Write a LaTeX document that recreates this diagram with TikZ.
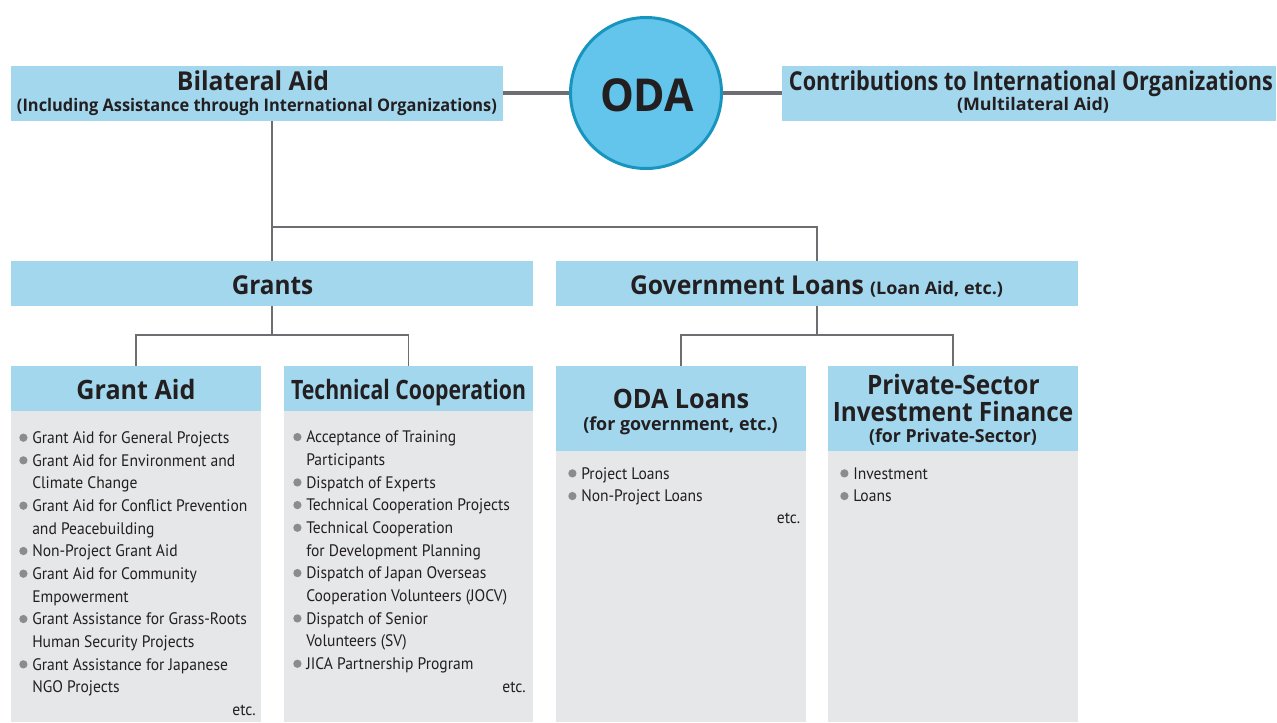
\documentclass[tikz,border=0pt]{standalone}
\usepackage{fontspec}
\usepackage{graphicx}
\setmainfont{PT Sans}
\newfontfamily\hdfont{Open Sans}
\newfontfamily\lstfont{PT Sans}[FakeStretch=0.935]
\newlength\px \setlength\px{0.75pt}
\definecolor{hdrblue}{HTML}{A3D7EE}
\definecolor{bodygray}{HTML}{E6E7E8}
\definecolor{odafill}{HTML}{63C5EC}
\definecolor{odaborder}{HTML}{1795BE}
\definecolor{linegray}{HTML}{6D6E71}
\definecolor{txt}{HTML}{231F20}
\definecolor{bulgray}{HTML}{8C8C8C}
\newcommand\hf[1]{\hdfont\bfseries\fontsize{#1}{#1}\selectfont}
\newcommand\fw[2]{\resizebox{#1\px}{\height}{#2}}
\newcommand\gbul{\tikz[x=1pt,y=1pt,baseline=0pt]{\fill[bulgray] (3.1,4.4) circle (3.1);}}
\newcommand\bi{\makebox[13\px][l]{\gbul}}
\newcommand\ci{\hspace*{13\px}}
\begin{document}
\begin{tikzpicture}[x=0.75pt,y=-0.75pt,
  hbox/.style={fill=hdrblue, inner sep=0pt, draw=none},
  gbox/.style={fill=bodygray, inner sep=0pt, draw=none},
  tree/.style={draw=linegray, line width=1.1pt},
  link/.style={draw=linegray, line width=2.6pt},
  ttl/.style={anchor=base, inner sep=0pt, text=txt},
  lst/.style={anchor=north west, inner sep=0pt, align=left, text=txt,
    font=\lstfont\fontsize{12.5}{17}\selectfont},
  etcnode/.style={anchor=base east, inner sep=0pt, text=txt,
    font=\lstfont\fontsize{12.5}{17}\selectfont}]
\useasboundingbox (0,0) rectangle (1277,722);
% top row
\node[hbox, minimum width=492\px, minimum height=55\px] (bil) at (257,93) {};
\node[circle, fill=odafill, draw=odaborder, line width=2.25pt, minimum size=151\px, inner sep=0pt] (oda) at (646,93) {};
\node[hbox, minimum width=494\px, minimum height=55\px] (con) at (1029,93) {};
% second row
\node[hbox, minimum width=522\px, minimum height=45\px] (grants) at (272,283.5) {};
\node[hbox, minimum width=522\px, minimum height=45\px] (gov) at (817,283.5) {};
% third row
\node[hbox, minimum width=250\px, minimum height=45\px] (gah) at (136,388.5) {};
\node[gbox, minimum width=250\px, minimum height=311\px] (gab) at (136,566.5) {};
\node[hbox, minimum width=249\px, minimum height=45\px] (tch) at (408.5,388.5) {};
\node[gbox, minimum width=249\px, minimum height=311\px] (tcb) at (408.5,566.5) {};
\node[hbox, minimum width=250\px, minimum height=85\px] (olh) at (681,408.5) {};
\node[gbox, minimum width=250\px, minimum height=271\px] (olb) at (681,586.5) {};
\node[hbox, minimum width=250\px, minimum height=85\px] (psh) at (953,408.5) {};
\node[gbox, minimum width=250\px, minimum height=271\px] (psb) at (953,586.5) {};
% connectors
\draw[link] (bil.east) -- (oda.west);
\draw[link] (oda.east) -- (con.west);
\coordinate (s1) at (272,227);
\coordinate (s2) at (272,335);
\coordinate (s3) at (817,335);
\draw[tree] (bil.south -| s1) -- (grants.north);
\draw[tree] (s1) -| (gov.north);
\draw[tree] (grants.south) -- (s2);
\draw[tree] (gah.north) |- (s2) -| (tch.north);
\draw[tree] (gov.south) -- (s3);
\draw[tree] (olh.north) |- (s3) -| (psh.north);
% titles
\node[ttl, font=\hf{19.5}] (tbil) at (253,90.7) {\fw{152}{Bilateral Aid}};
\node[ttl, font=\hf{13}] (tbil2) at (257,111) {\fw{480}{(Including Assistance through International Organizations)}};
\node[ttl, font=\hf{34}] (toda) at (647,111) {\fw{94}{ODA}};
\node[ttl, font=\hf{19.5}] (tcon) at (1031,90) {\fw{484}{Contributions to International Organizations}};
\node[ttl, font=\hf{13}] (tcon2) at (1033,110.7) {\fw{152}{(Multilateral Aid)}};
\node[ttl, font=\hf{19.5}] (tgr) at (272.5,294) {\fw{81.5}{Grants}};
\node[ttl, font=\hf{19.5}] (tgov) at (816.5,294) {\fw{234}{Government Loans}\hspace{6\px}{\hf{13}\fw{133}{(Loan Aid, etc.)}}};
\node[ttl, font=\hf{20}] (tga) at (136,399.3) {\fw{119}{Grant Aid}};
\node[ttl, font=\hf{20}] (ttc) at (408.5,399.3) {\fw{235}{Technical Cooperation}};
\node[ttl, font=\hf{20}] (tol) at (681,408.3) {\fw{136.5}{ODA Loans}};
\node[ttl, font=\hf{13.5}] (tol2) at (680.5,430.7) {\fw{194.5}{(for government, etc.)}};
\node[ttl, font=\hf{20}] (tps1) at (953.3,394) {\fw{172.6}{Private-Sector}};
\node[ttl, font=\hf{20}] (tps2) at (953.1,421) {\fw{240.6}{Investment Finance}};
\node[ttl, font=\hf{13.5}] (tps3) at (953,442.7) {\fw{168}{(for Private-Sector)}};
% lists
\node[lst] (lga) at (19,427.4) {\strut\bi Grant Aid for General Projects\\
\bi Grant Aid for Environment and\\
\ci Climate Change\\
\bi Grant Aid for Conflict Prevention\\
\ci and Peacebuilding\\
\bi Non-Project Grant Aid\\
\bi Grant Aid for Community\\
\ci Empowerment\\
\bi Grant Assistance for Grass-Roots\\
\ci Human Security Projects\\
\bi Grant Assistance for Japanese\\
\ci NGO Projects};
\node[etcnode] (ega) at (256,715) {etc.};
\node[lst] (ltc) at (293,426.8) {\strut\bi Acceptance of Training\\
\ci Participants\\
\bi Dispatch of Experts\\
\bi Technical Cooperation Projects\\
\bi Technical Cooperation\\
\ci for Development Planning\\
\bi Dispatch of Japan Overseas\\
\ci Cooperation Volunteers (JOCV)\\
\bi Dispatch of Senior\\
\ci Volunteers (SV)\\
\bi JICA Partnership Program};
\node[etcnode] (etc) at (526,692) {etc.};
\node[lst] (lol) at (568,463.1) {\strut\bi Project Loans\\
\bi Non-Project Loans};
\node[etcnode] (eol) at (800.5,523.5) {etc.};
\node[lst] (lps) at (840,463.1) {\strut\bi Investment\\
\bi Loans};
\end{tikzpicture}
\end{document}
